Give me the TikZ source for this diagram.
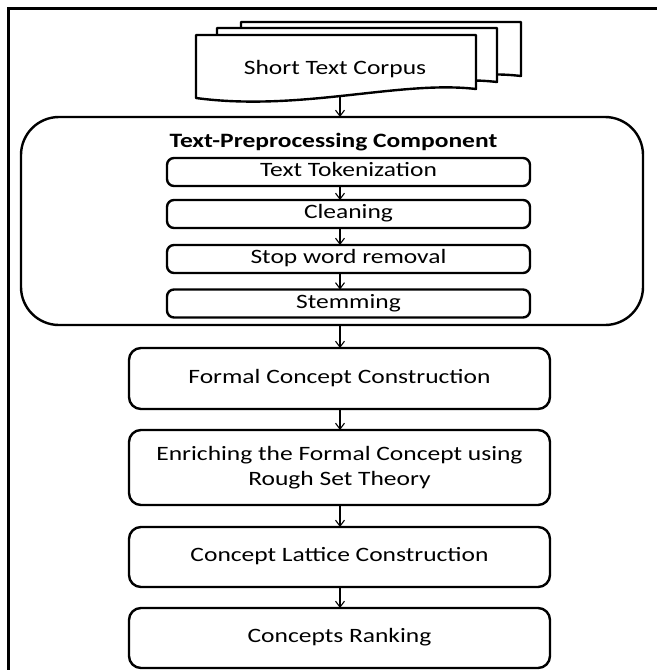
\documentclass[tikz,border=0pt]{standalone}
\usepackage{fontspec}
\setmainfont{Carlito}[FakeStretch=1.25]
\usetikzlibrary{arrows.meta}
\begin{document}
\begin{tikzpicture}[x=1pt,y=-1pt,
	font=\fontsize{20.4}{25}\selectfont,
	every node/.style={inner sep=0,outer sep=0},
	subtask/.style={draw,line width=2.4pt,rounded corners=7pt,
		minimum width=363pt,minimum height=28pt,text height=13pt,text depth=4pt},
	stage/.style={draw,line width=2.4pt,rounded corners=12pt,
		minimum width=421pt,align=center},
	flow/.style={line width=1.1pt,-{Straight Barb[length=6pt,width=9pt]}},
	doc/.style={draw,fill=white,line width=2.4pt,line join=round}]
\useasboundingbox (0,0) rectangle (657,670);
\draw[line width=2.5pt] (8.5,670) -- (8.5,8.5) -- (657,8.5);
% corpus pages, back to front
\foreach \dx/\dy in {45/-13,21/-7,0/0}
	\draw[doc,shift={(\dx,\dy)}] (196,35) -- (476,35) -- (476,89)
		.. controls (400,80) and (300,112) .. (196,98) -- cycle;
\node[anchor=base] (corpus) at (335,74) {Short Text Corpus};
\coordinate (corpusend) at (340,97);
\coordinate (axis) at (340,0);
% preprocessing group
\node[draw,line width=2.4pt,rounded corners=38pt,
	minimum width=622pt,minimum height=208pt] (prep) at (332,221) {};
\node[anchor=base,font=\fontsize{20.4}{25}\selectfont\bfseries]
	(preptitle) at (333.5,147) {Text-Preprocessing Component};
\node[subtask] (tok) at (348.5,172) {Text Tokenization};
\node[subtask] (clean) at (348.5,214) {Cleaning};
\node[subtask] (stop) at (348.5,259) {Stop word removal};
\node[subtask] (stem) at (348.5,303.5) {Stemming};
% main stages
\node[stage,minimum height=61pt,text height=13pt,text depth=4pt]
	(formal) at (339.5,378.5) {Formal Concept Construction};
\node[stage,minimum height=75pt] (enrich) at (339.5,467.5)
	{Enriching the Formal Concept using\\Rough Set Theory};
\node[stage,minimum height=60pt,text height=13pt,text depth=4pt]
	(lattice) at (339.5,557) {Concept Lattice Construction};
\node[stage,minimum height=60pt,text height=13pt,text depth=4pt]
	(rank) at (339.5,638) {Concepts Ranking};
% arrows
\draw[flow] (corpusend) -- (prep.north -| corpusend);
\draw[flow] (tok.south -| axis) -- (clean.north -| axis);
\draw[flow] (clean.south -| axis) -- (stop.north -| axis);
\draw[flow] (stop.south -| axis) -- (stem.north -| axis);
\draw[flow] (prep.south -| axis) -- (formal.north -| axis);
\draw[flow] (formal.south -| axis) -- (enrich.north -| axis);
\draw[flow] (enrich.south -| axis) -- (lattice.north -| axis);
\draw[flow] (lattice.south -| axis) -- (rank.north -| axis);
\end{tikzpicture}
\end{document}
